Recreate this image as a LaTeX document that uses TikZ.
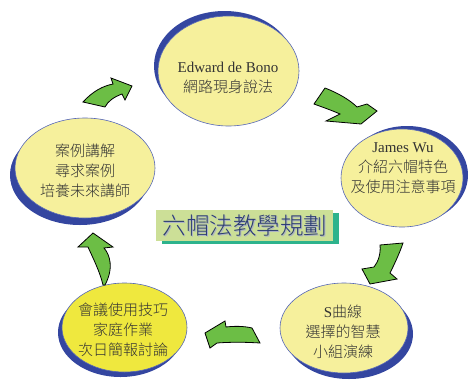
\documentclass[tikz,border=0pt]{standalone}
\usepackage{fontspec}
\setmainfont{Liberation Serif}
\newfontfamily\cjk{Noto Sans CJK TC Light}
\usetikzlibrary{shapes.geometric}
\definecolor{pale}{HTML}{F6F09C}
\definecolor{brightY}{HTML}{EFE83E}
\definecolor{shade}{HTML}{3446A0}
\definecolor{rim}{HTML}{5566B8}
\definecolor{arrowG}{HTML}{6CBE45}
\definecolor{titleBg}{HTML}{CCDF97}
\definecolor{titleEdge}{HTML}{2DB38C}
\definecolor{titleInk}{HTML}{2C3C74}
\definecolor{ink}{HTML}{333333}
\begin{document}
\begin{tikzpicture}[x=1pt,y=-1pt,
  bubble/.style={ellipse, draw=rim, line width=0.6pt, fill=pale, inner sep=0pt},
  bshade/.style={ellipse, fill=shade, draw=none, inner sep=0pt},
  txt/.style={align=center, text=ink, inner sep=0pt, font=\fontsize{15}{20}\selectfont},
  garrow/.style={fill=arrowG, draw=black, line width=0.8pt, line join=miter}]
\useasboundingbox (0,0) rectangle (471,381);

% shadows
\node[bshade, minimum width=141pt, minimum height=110pt] (s1) at (224.5,66) {};
\node[bshade, minimum width=122pt, minimum height=98pt] (s2) at (407,175) {};
\node[bshade, minimum width=128pt, minimum height=90pt] (s3) at (349,334) {};
\node[bshade, minimum width=125pt, minimum height=89pt] (s4) at (120.5,332.5) {};
\node[bshade, minimum width=140pt, minimum height=100pt] (s5) at (80,175) {};

% ellipses
\node[bubble, minimum width=141pt, minimum height=110pt] (e1) at (228.5,71) {};
\node[bubble, minimum width=122pt, minimum height=98pt] (e2) at (402,178) {};
\node[bubble, minimum width=128pt, minimum height=90pt] (e3) at (344,328) {};
\node[bubble, fill=brightY, minimum width=125pt, minimum height=89pt] (e4) at (124.5,327.5) {};
\node[bubble, minimum width=140pt, minimum height=100pt] (e5) at (85,168) {};

% texts
\node[txt] (t1) at (228,77.5) {Edward de Bono\\{\cjk 網路現身說法}};
\node[txt] (t2) at (403,168) {James Wu\\{\cjk 介紹六帽特色}\\{\cjk 及使用注意事項}};
\node[txt] (t3) at (343,332) {S{\cjk 曲線}\\{\cjk 選擇的智慧}\\{\cjk 小組演練}};
\node[txt] (t4) at (123,330) {{\cjk 會議使用技巧}\\{\cjk 家庭作業}\\{\cjk 次日簡報討論}};
\node[txt] (t5) at (85,171) {{\cjk 案例講解}\\{\cjk 尋求案例}\\{\cjk 培養未來講師}};

% title
\node[fill=titleEdge, minimum width=177pt, minimum height=31pt, inner sep=0pt] (tshade) at (250.5,228.5) {};
\node[fill=titleBg, minimum width=177pt, minimum height=31pt, inner sep=0pt] (title) at (244.5,225.5) {};
\node[text=titleInk!40, inner sep=0pt, font=\cjk\fontsize{23.5}{24}\selectfont] (ttlsh) at (245.8,226.8) {六帽法教學規劃};
\node[text=titleInk, inner sep=0pt, font=\cjk\fontsize{23.5}{24}\selectfont] (ttl) at (245,226) {六帽法教學規劃};

% arrows
\draw[garrow] (83,102) .. controls (93,91) and (103,86) .. (113,84) -- (111,78) -- (132,86) -- (125,100) -- (122,94) .. controls (114,97) and (108,101) .. (105,107) -- cycle;
\draw[garrow] (325,88) .. controls (338,93) and (350,100) .. (357,107) -- (367,104) -- (377,111) -- (361,124) -- (326,121) -- (340,114) .. controls (331,110) and (322,107) .. (314,104) -- cycle;
\draw[garrow] (380,245) .. controls (381,254) and (378,262) .. (374,267) -- (362,269) -- (370,284) -- (397,279) -- (390,273) .. controls (395,263) and (400,252) .. (403,243) -- cycle;
\draw[garrow] (252,328) .. controls (244,326) and (234,326) .. (226,327) -- (225,321) -- (205,333) -- (210,348) -- (217,343) .. controls (230,342) and (245,342) .. (260,343) -- cycle;
\draw[garrow] (93,233) -- (113,247) -- (104,248) .. controls (110,255) and (114,268) .. (105,285) -- (103,285) .. controls (100,272) and (93,258) .. (88,247) -- (78,247) -- cycle;
\end{tikzpicture}
\end{document}
